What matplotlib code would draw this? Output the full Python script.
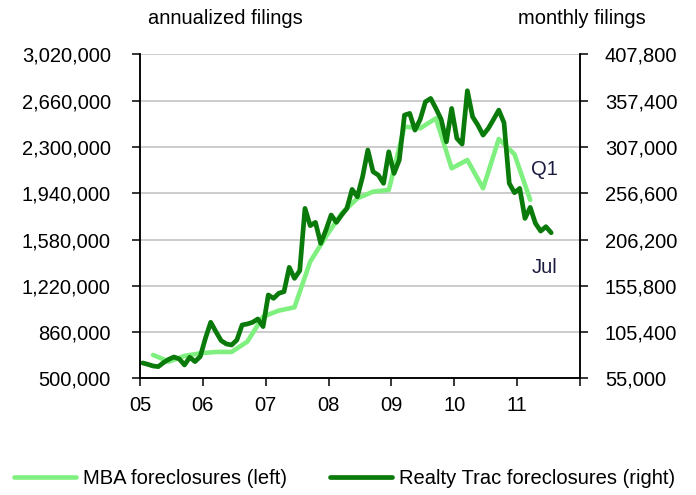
import numpy as np
import matplotlib.pyplot as plt
from matplotlib.ticker import FuncFormatter

plt.rcParams['font.family'] = ['Liberation Sans', 'DejaVu Sans']

# MBA foreclosures, quarterly, annualized (left axis), Q1 2005 .. Q1 2011
mba = [681600, 629700, 673800, 694500, 704900, 704900, 785300, 979900,
       1026600, 1052500, 1407900, 1602500, 1783500, 1900200, 1952600, 1965600,
       2458400, 2445500, 2523300, 2134200, 2199000, 1978600, 2362500, 2243200,
       1887800]

# Realty Trac foreclosures, monthly (right axis), Jan 2005 .. Jul 2011
rt = [71700, 70200, 68400, 67700, 72100, 75700, 78200, 76100, 69500, 77900,
      73200, 78600, 98600, 116000, 105800, 96000, 92400, 91300, 96700, 113100,
      114200, 116000, 119600, 111300, 145800, 142100, 147600, 149400, 175900, 163900,
      172200, 240100, 221300, 224900, 202000, 216500, 232900, 224900, 232900, 240100,
      260800, 252800, 274600, 303700, 280100, 276400, 267400, 301800, 278200, 292800,
      341800, 343600, 325400, 337100, 356300, 359900, 349000, 337100, 312700, 349000,
      316400, 310200, 368300, 340000, 330900, 320000, 327300, 337100, 347200, 333400,
      267400, 257200, 261900, 229200, 241200, 223800, 215400, 220200, 213600]

# dates as fractional years (mid-month)
rt_x = 2005 + (np.arange(len(rt)) + 0.5) / 12
mba_x = 2005 + (np.arange(len(mba)) * 3 + 2.5) / 12

left_ticks = [500000, 860000, 1220000, 1580000, 1940000, 2300000, 2660000, 3020000]
right_ticks = [55000, 105400, 155800, 206200, 256600, 307000, 357400, 407800]
years = list(range(2005, 2013))
year_labels = ['05', '06', '07', '08', '09', '10', '11', '']

light = '#7FF07F'
dark = '#0A7A0A'
fs = 14.5

fig = plt.figure(figsize=(6.96, 4.95), dpi=100)
ax = fig.add_axes([0.2011, 0.2358, 0.6322, 0.6541])
ax2 = ax.twinx()

l1, = ax.plot(mba_x, mba, color=light, lw=3.3, solid_capstyle='round',
              label='MBA foreclosures (left)')
l2, = ax2.plot(rt_x, rt, color=dark, lw=3.4, solid_capstyle='round',
               label='Realty Trac foreclosures (right)')

ax.set_xlim(2005, 2012)
ax.set_ylim(500000, 3020000)
ax2.set_ylim(55000, 407800)
ax.set_yticks(left_ticks)
ax2.set_yticks(right_ticks)
ax.set_xticks(years)
ax.set_xticklabels(year_labels)
fmt = FuncFormatter(lambda v, p: f'{int(round(v)):,}')
ax.yaxis.set_major_formatter(fmt)
ax2.yaxis.set_major_formatter(fmt)

ax.grid(axis='y', color='#C8C8C8', lw=1.3)
ax.set_axisbelow(True)
for a in (ax, ax2):
    a.spines['top'].set_visible(False)
    for s in ('left', 'right', 'bottom'):
        a.spines[s].set_linewidth(1.1)
ax.tick_params(axis='y', direction='out', length=6, width=1.1, pad=15, labelsize=fs)
ax2.tick_params(axis='y', direction='out', length=6, width=1.1, pad=12, labelsize=fs)
ax.tick_params(axis='x', direction='out', length=6, width=1.1, pad=7, labelsize=fs)

fig.text(0.2126, 0.963, 'annualized filings', fontsize=fs, va='center', ha='left')
fig.text(0.744, 0.963, 'monthly filings', fontsize=fs, va='center', ha='left')

ax.text(2011.44, 2127300, 'Q1', fontsize=fs, color='#1a1a40', ha='center', va='center')
ax.text(2011.44, 1365400, 'Jul', fontsize=fs, color='#1a1a40', ha='center', va='center')

fig.legend(handles=[l1, l2], loc='center', bbox_to_anchor=(0.495, 0.034), ncol=2,
           frameon=False, fontsize=fs, handlelength=3.1, handletextpad=0.35,
           columnspacing=2.1)

fig.savefig('out.png', dpi=100)
